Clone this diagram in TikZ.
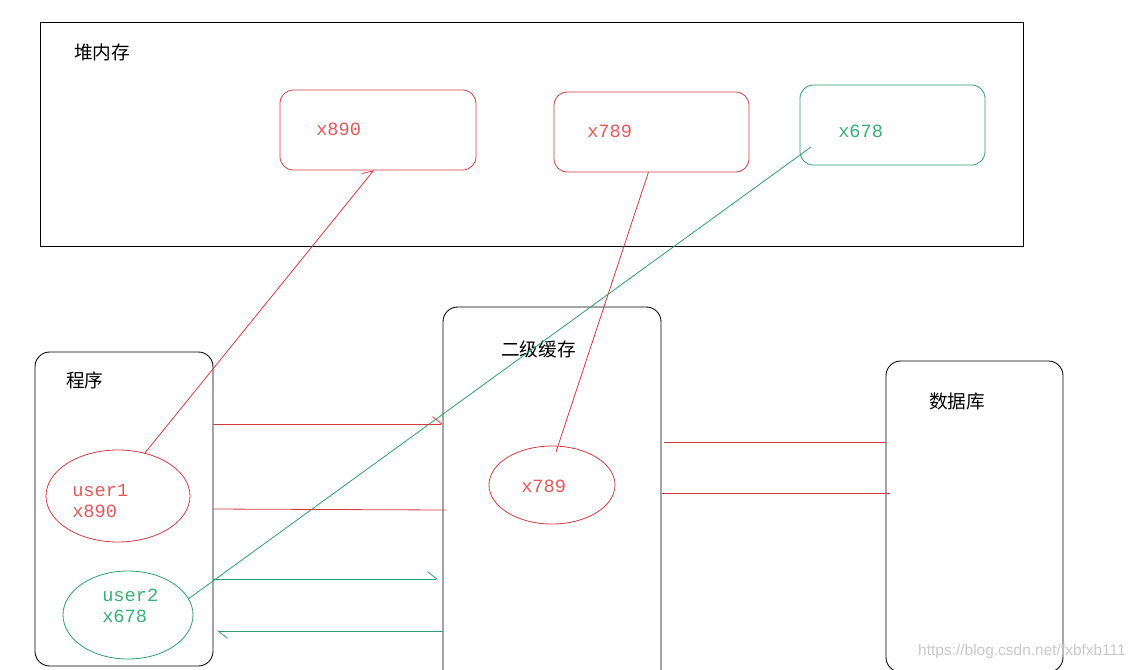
\documentclass[tikz,border=0pt]{standalone}
\usepackage{fontspec}
\usepackage{xcolor}
\usepackage{tikz}
\usetikzlibrary{positioning,arrows.meta,shapes.geometric,calc}
\newfontfamily\cjk{Noto Sans CJK SC}
\newfontfamily\mono{Liberation Mono}
\newfontfamily\wmfont{Liberation Sans}
\definecolor{crojo}{HTML}{D23C41}
\definecolor{crojot}{HTML}{E2585A}
\definecolor{cverde}{HTML}{2E9E6B}
\definecolor{cverdet}{HTML}{3AAE74}
\definecolor{cmarca}{HTML}{C8C8C8}
\tikzset{
  caja/.style={rectangle, draw=black, line width=0.65pt, inner sep=0pt, outer sep=0pt},
  cajar/.style={rectangle, rounded corners=10pt, draw=crojo, line width=0.6pt, inner sep=0pt, outer sep=0pt},
  cajav/.style={rectangle, rounded corners=10pt, draw=cverde, line width=0.6pt, inner sep=0pt, outer sep=0pt},
  elr/.style={ellipse, draw=crojo, line width=0.6pt, inner sep=0pt, outer sep=0pt},
  elv/.style={ellipse, draw=cverde, line width=0.6pt, inner sep=0pt, outer sep=0pt},
  titulo/.style={anchor=west, inner sep=0pt, font=\cjk\fontsize{14}{17}\selectfont},
  etqr/.style={anchor=west, inner sep=0pt, align=left, text=crojot, font=\mono\fontsize{14}{16}\selectfont},
  etqv/.style={anchor=west, inner sep=0pt, align=left, text=cverdet, font=\mono\fontsize{14}{16}\selectfont},
  liner/.style={draw=crojo, line width=0.6pt},
  linev/.style={draw=cverde, line width=0.6pt},
  media/.style={-{Straight Barb[left, length=7pt, width=11pt]}},
}
\begin{document}
\begin{tikzpicture}[x=0.75pt, y=-0.75pt]
  \useasboundingbox (0,0) rectangle (1132,669);
  % heap
  \node[caja, minimum width=737.25pt, minimum height=168pt] (heap) at (531.5,134) {};
  \node[titulo] (theap) at (74,52) {堆内存};
  \node[cajar, minimum width=147pt, minimum height=60pt] (b890) at (378,130) {};
  \node[cajar, minimum width=146.25pt, minimum height=60pt] (b789) at (651.5,132) {};
  \node[cajav, minimum width=138.75pt, minimum height=60pt] (b678) at (892.5,125) {};
  \node[etqr] (t890) at (316,129) {x890};
  \node[etqr] (t789) at (587,131) {x789};
  \node[etqv] (t678) at (838,131) {x678};
  % program, cache, database
  \node[caja, rounded corners=11pt, minimum width=133.5pt, minimum height=235.5pt] (prog) at (124,509) {};
  \node[titulo] (tprog) at (66,380) {程序};
  \node[caja, rounded corners=11pt, minimum width=163.5pt, minimum height=283.5pt] (cache) at (552,496) {};
  \node[titulo] (tcache) at (501,349) {二级缓存};
  \node[caja, rounded corners=11pt, minimum width=132.75pt, minimum height=233.25pt] (db) at (974.5,516.5) {};
  \node[titulo] (tdb) at (929,401) {数据库};
  % objects
  \node[elr, minimum width=108pt, minimum height=69pt] (u1) at (118,496) {};
  \node[etqr] (tu1) at (72,501) {user1\\x890};
  \node[elv, minimum width=97.5pt, minimum height=66pt] (u2) at (128,615) {};
  \node[etqv] (tu2) at (102,606) {user2\\x678};
  \node[elr, minimum width=94.5pt, minimum height=58.5pt] (e789) at (552,485) {};
  \node[etqr] (te789) at (521,486) {x789};
  \coordinate (g678) at ($(b678.west)+(11,22)$);
  % references
  \draw[liner, media] (u1.58) -- ($(b890.south)+(-4,0)$);
  \draw[liner] ($(e789.north)+(4,6)$) -- ($(b789.south)+(-3,0)$);
  \draw[linev] (u2.15) -- (g678);
  % program <-> cache
  \draw[liner, media] (prog.east |- 0,424) -- (cache.west |- 0,424);
  \draw[liner] (prog.east |- 0,509) -- ($(cache.west |- 0,510)+(3,0)$);
  \draw[linev, media] (prog.east |- 0,579) -- ($(cache.west |- 0,579)+(-5,0)$);
  \draw[linev, media] (cache.west |- 0,631) -- ($(prog.east |- 0,631)+(4,0)$);
  % cache <-> database
  \draw[liner] ($(cache.east |- 0,442)+(3,0)$) -- (db.west |- 0,442);
  \draw[liner] ($(cache.east |- 0,493)+(1,0)$) -- ($(db.west |- 0,493)+(4,0)$);
  \node[anchor=east, inner sep=0pt, text=cmarca, font=\wmfont\fontsize{11.6}{13}\selectfont] (marca) at (1126,651) {https://blog.csdn.net/fxbfxb111};
\end{tikzpicture}
\end{document}
